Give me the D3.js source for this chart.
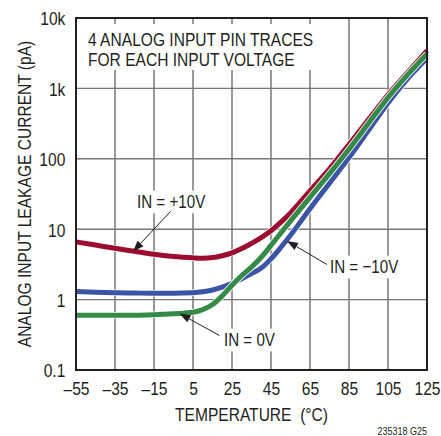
<!DOCTYPE html>
<html><head><meta charset="utf-8">
<script src="https://cdn.jsdelivr.net/npm/d3@7/dist/d3.min.js"></script>
<style>
html,body{margin:0;padding:0;background:#fff;}
text{font-family:"Liberation Sans",Arial,Helvetica,sans-serif;fill:#231f20;}
</style></head>
<body>
<svg id="chart" width="441" height="436"></svg>
<script>
// ---- data ----
const temps   = [-55,-45,-35,-25,-15,-5,5,10,15,20,25,30,35,40,45,50,55,65,75,85,95,105,115,125];
const inPos10 = [6.6,5.95,5.35,4.85,4.4,4.1,3.92,3.88,3.95,4.2,4.6,5.3,6.3,7.6,9.5,12.5,17,35,72,160,360,810,1680,3430];
const inNeg10 = [1.3,1.27,1.25,1.24,1.23,1.23,1.25,1.29,1.37,1.5,1.7,1.98,2.35,2.8,3.8,5.5,8.2,19.5,45,104,254,622,1370,2690];
const in0V    = [0.6,0.6,0.6,0.6,0.61,0.63,0.66,0.72,0.85,1.13,1.6,2.2,2.9,4.0,5.9,8.8,13.1,28.4,61.6,137,319,741,1557,3080];
const xTicks  = [-55,-35,-15,5,25,45,65,85,105,125];
const yTicks  = [0.1,1,10,100,1000,10000];
const yTickLabels = ["0.1","1","10","100","1k","10k"];
const seriesNames = ["IN = +10V","IN = \u221210V","IN = 0V"];
const colors = ["#9b0c30","#3c54a6","#358a48"];

const SX = 0.82; // horizontal condensing of the sans font
const svg = d3.select("#chart");
const L=76, R=427, T=18, B=370;
const x = d3.scaleLinear().domain([-55,125]).range([L,R]);
const y = d3.scaleLog().domain([0.1,10000]).range([B,T]);

function stext(parent, px, py, str, size, anchor, rot){
  const gg = parent.append("g").attr("transform",`translate(${px},${py})${rot?` rotate(${rot})`:""} scale(${SX},1)`);
  const t = gg.append("text").attr("text-anchor",anchor||"start").style("font-size",size+"px").text(str);
  return {g:gg,t:t};
}

// grid
const g = svg.append("g");
g.selectAll(".vg").data(xTicks.slice(1,-1)).enter().append("line")
  .attr("x1",d=>x(d)).attr("x2",d=>x(d)).attr("y1",T).attr("y2",B)
  .attr("stroke","#555").attr("stroke-width",1.2);
g.selectAll(".hg").data(yTicks.slice(1,-1)).enter().append("line")
  .attr("x1",L).attr("x2",R).attr("y1",d=>y(d)).attr("y2",d=>y(d))
  .attr("stroke","#777").attr("stroke-width",1.4);

// tick labels via axes
const xAxis = d3.axisBottom(x).tickValues(xTicks).tickSize(0).tickPadding(0)
  .tickFormat(d=>d<0?"\u2013"+Math.abs(d):String(d));
const xa = svg.append("g").attr("transform",`translate(0,${B})`).call(xAxis);
xa.select(".domain").remove();
xa.selectAll("text").attr("y",25).attr("dy",0).attr("transform",`scale(${SX},1)`)
  .style("font-size","19px").style("font-family",'"Liberation Sans",Arial,sans-serif').attr("fill","#231f20");

const yAxis = d3.axisLeft(y).tickValues(yTicks).tickSize(0).tickPadding(13)
  .tickFormat((d,i)=>yTickLabels[i]);
const ya = svg.append("g").attr("transform",`translate(${L},0)`).call(yAxis);
ya.select(".domain").remove();
ya.selectAll("text").attr("dy","0.36em").attr("transform",`scale(${SX},1)`)
  .style("font-size","19px").style("font-family",'"Liberation Sans",Arial,sans-serif').attr("fill","#231f20");

// top annotation box
svg.append("rect").attr("x",82).attr("y",24).attr("width",236).attr("height",46).attr("fill","#fff");
stext(svg, 88, 46, "4 ANALOG INPUT PIN TRACES", 19);
stext(svg, 88, 66, "FOR EACH INPUT VOLTAGE", 19);

// curves
const line = d3.line().x((d,i)=>x(temps[i])).y(d=>y(d)).curve(d3.curveMonotoneX);
const order = [[inPos10,0],[inNeg10,1],[in0V,2]];
order.forEach(([vals,ci])=>{
  svg.append("path").attr("d",line(vals)).attr("fill","none").attr("stroke","#fff").attr("stroke-width",6.6);
  svg.append("path").attr("d",line(vals)).attr("fill","none").attr("stroke",colors[ci]).attr("stroke-width",5);
});

// frame
svg.append("rect").attr("x",L).attr("y",T).attr("width",R-L).attr("height",B-T)
  .attr("fill","none").attr("stroke","#231f20").attr("stroke-width",2);

// callouts
function callout(label, tx, ty, x1, y1, x2, y2){
  const o = stext(svg, tx, ty, label, 18.5);
  const bb = o.t.node().getBBox();
  o.g.insert("rect","text").attr("x",bb.x-3/SX).attr("y",bb.y-1).attr("width",bb.width+6/SX).attr("height",bb.height+2).attr("fill","#fff");
  const ang = Math.atan2(y2-y1,x2-x1);
  const hl=11, hw=4;
  const bx = x2-hl*Math.cos(ang), by=y2-hl*Math.sin(ang);
  svg.append("line").attr("x1",x1).attr("y1",y1).attr("x2",bx).attr("y2",by).attr("stroke","#231f20").attr("stroke-width",1);
  const p = [[x2,y2],[bx+hw*Math.sin(ang),by-hw*Math.cos(ang)],[bx-hw*Math.sin(ang),by+hw*Math.cos(ang)]];
  svg.append("path").attr("d","M"+p.map(q=>q.join(",")).join("L")+"Z").attr("fill","#231f20");
}
callout(seriesNames[0], 137, 208, 170.5, 211.5, 133, 251.5);
callout(seriesNames[1], 330, 273, 327, 264.5, 287, 241);
callout(seriesNames[2], 224, 346, 219.5, 335.5, 179.5, 313.5);

// axis titles
stext(svg, (L+R)/2, 421, "TEMPERATURE \u00a0(\u00b0C)", 19, "middle");
stext(svg, 31, 194, "ANALOG INPUT LEAKAGE CURRENT (pA)", 19, "middle", -90);
stext(svg, 427, 435, "235318 G25", 11, "end");
</script>
</body></html>
